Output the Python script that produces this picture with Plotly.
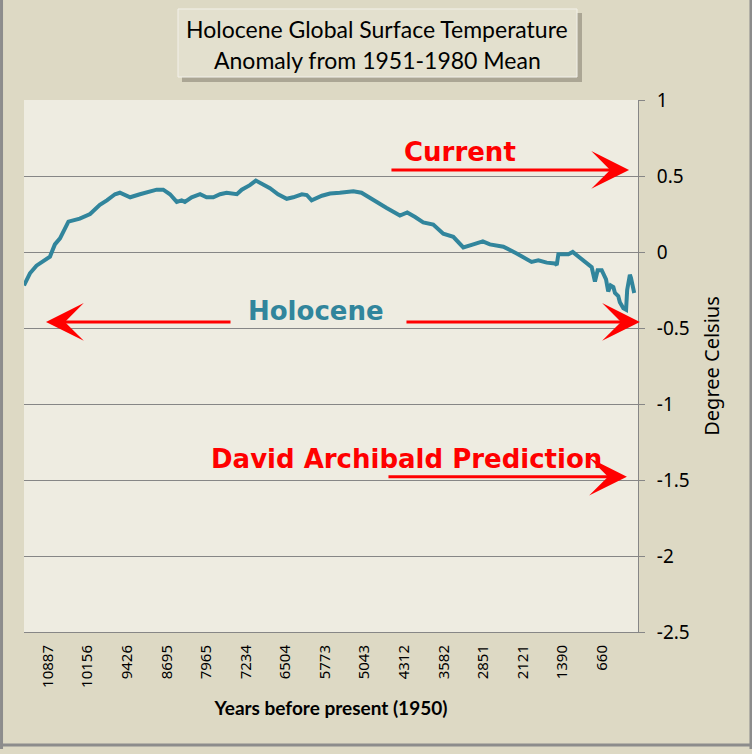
import plotly.graph_objects as go

# ---- data (years before 1950, anomaly in degC)
years = [11330, 11220, 11100, 10850, 10760, 10665, 10510, 10390, 10300, 10110,
         9930, 9800, 9650, 9560, 9370, 9190, 9065, 9005, 8880, 8760,
         8635, 8510, 8420, 8360, 8235, 8080, 7960, 7835, 7710, 7590,
         7400, 7310, 7160, 7050, 6910, 6790, 6640, 6480, 6360, 6200,
         6110, 6020, 5830, 5680, 5500, 5250, 5100, 4880, 4635, 4390,
         4255, 4110, 3960, 3775, 3590, 3405, 3220, 3035, 2860, 2730,
         2480, 2235, 1960, 1835, 1680, 1530, 1495, 1465, 1375, 1280,
         1200, 1100, 975, 850, 790, 740, 665, 585, 545, 500,
         450, 420, 360, 330, 265, 215, 195, 145, 125, 80, 65]
anomaly = [-0.22, -0.14, -0.09, -0.03, 0.05, 0.09, 0.20, 0.21, 0.22, 0.25,
           0.31, 0.34, 0.38, 0.39, 0.36, 0.38, 0.39, 0.40, 0.41, 0.41,
           0.38, 0.33, 0.34, 0.33, 0.36, 0.38, 0.36, 0.36, 0.38, 0.39,
           0.38, 0.41, 0.44, 0.47, 0.44, 0.42, 0.38, 0.35, 0.36, 0.38,
           0.375, 0.34, 0.37, 0.385, 0.39, 0.40, 0.39, 0.34, 0.29, 0.24,
           0.26, 0.23, 0.195, 0.18, 0.12, 0.10, 0.03, 0.05, 0.07, 0.05,
           0.035, -0.01, -0.065, -0.055, -0.07, -0.075, -0.085, -0.015, -0.015, -0.015,
           0.0, -0.03, -0.07, -0.10, -0.195, -0.12, -0.12, -0.18, -0.26, -0.22,
           -0.23, -0.27, -0.29, -0.33, -0.37, -0.38, -0.25, -0.15, -0.17, -0.27, -0.27]

tick_years = [10887, 10156, 9426, 8695, 7965, 7234, 6504, 5773, 5043,
              4312, 3582, 2851, 2121, 1390, 660]
y_ticks = [1, 0.5, 0, -0.5, -1, -1.5, -2, -2.5]
y_labels = ["1", "0.5", "0", "-0.5", "-1", "-1.5", "-2", "-2.5"]

title_lines = ["Holocene Global Surface Temperature", "Anomaly from 1951-1980 Mean"]

PAPER = "#DDD9C4"
PLOT_BG = "#EEECE1"
GRID = "#868686"
LINE = "#31859C"
RED = "#FF0000"

fig = go.Figure()
fig.add_trace(go.Scatter(
    x=years, y=anomaly, mode="lines",
    line=dict(color=LINE, width=4),
    showlegend=False, hoverinfo="skip",
))


def arrow(x, y, ax, ay):
    # red stealth arrow, tip at (x, y), tail at (ax, ay) in data coords
    return dict(
        x=x, y=y, ax=ax, ay=ay, xref="x", yref="y", axref="x", ayref="y",
        text="", showarrow=True, arrowhead=3, arrowsize=2.1, arrowwidth=3,
        arrowcolor=RED, standoff=0, startstandoff=0,
    )


bold = "DejaVu Sans"
annotations = [
    arrow(160, 0.54, 4574, 0.54),
    arrow(10924, -0.46, 7490, -0.46),
    arrow(-40, -0.46, 4297, -0.46),
    arrow(200, -1.478, 4629, -1.478),
    dict(x=3281, y=0.66, xref="x", yref="y", text="<b>Current</b>", showarrow=False,
         font=dict(family=bold, size=26, color=RED)),
    dict(x=5940, y=-0.39, xref="x", yref="y", text="<b>Holocene</b>", showarrow=False,
         font=dict(family=bold, size=26, color=LINE)),
    dict(x=4260, y=-1.362, xref="x", yref="y", text="<b>David Archibald Prediction</b>",
         showarrow=False, font=dict(family=bold, size=26, color=RED)),
    dict(x=0.5757, y=1.1335, xref="paper", yref="paper", text=title_lines[0],
         xanchor="center", yanchor="middle",
         showarrow=False, font=dict(family="Lato", size=23, color="black")),
    dict(x=0.5757, y=1.0752, xref="paper", yref="paper", text=title_lines[1],
         xanchor="center", yanchor="middle",
         showarrow=False, font=dict(family="Lato", size=23, color="black")),
]

shapes = [
    # title box shadow and box
    dict(type="rect", xref="paper", yref="paper", x0=0.2573, x1=0.9088, y0=1.0338, y1=1.1635,
         fillcolor="rgba(110,105,90,0.45)", line=dict(width=0), layer="above"),
    dict(type="rect", xref="paper", yref="paper", x0=0.2508, x1=0.9007, y0=1.0432, y1=1.1711,
         fillcolor="#E3E0CE", line=dict(color="#F3F1EA", width=1), layer="above"),
    # outer frame (left, right, bottom)
    dict(type="line", xref="paper", yref="paper", x0=-0.0366, x1=-0.0366, y0=-0.22, y1=1.19,
         line=dict(color="#8C8C8C", width=3)),
    dict(type="line", xref="paper", yref="paper", x0=1.184, x1=1.184, y0=-0.22, y1=1.19,
         line=dict(color="#8C8C8C", width=3)),
    dict(type="line", xref="paper", yref="paper", x0=-0.04, x1=1.19, y0=-0.2124, y1=-0.2124,
         line=dict(color="#8C8C8C", width=3)),
]

fig.update_layout(
    width=752, height=754,
    margin=dict(l=24, r=114, t=100, b=122),
    paper_bgcolor=PAPER, plot_bgcolor=PLOT_BG,
    font=dict(family="Noto Sans", color="black"),
    annotations=annotations, shapes=shapes,
    xaxis=dict(
        range=[11330, -5], tickmode="array", tickvals=tick_years,
        ticktext=[str(t) for t in tick_years], tickangle=-90,
        tickfont=dict(family="Noto Sans", size=15, color="black"),
        showgrid=False, zeroline=False, showline=True, linecolor=GRID, linewidth=1,
        ticks="", ticklabelstandoff=6,
        title=dict(text="<b>Years before present (1950)</b>",
                   font=dict(family="Lato", size=19, color="black"), standoff=14),
    ),
    yaxis=dict(
        side="right", range=[-2.5, 1], tickmode="array", tickvals=y_ticks, ticktext=y_labels,
        tickfont=dict(family="Noto Sans", size=19, color="black"),
        showgrid=True, gridcolor=GRID, gridwidth=1, zeroline=False,
        showline=True, linecolor=GRID, linewidth=1,
        ticks="outside", ticklen=6, tickcolor=GRID, ticklabelstandoff=8,
        title=dict(text="Degree Celsius", font=dict(family="Noto Sans", size=20, color="black"),
                   standoff=16),
    ),
)

# page body margin would shift the figure by 8px
fig.write_html("out.html", config={"displayModeBar": False},
               post_script="document.body.style.margin='0';")
